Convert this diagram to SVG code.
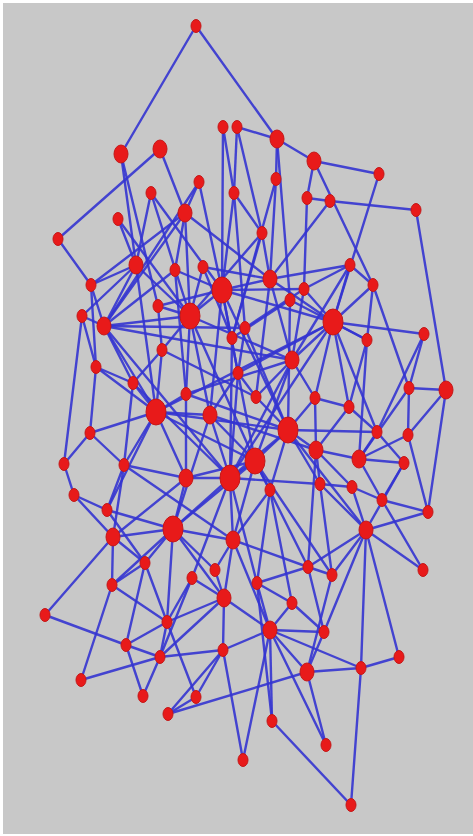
<svg xmlns="http://www.w3.org/2000/svg" width="473" height="836" viewBox="0 0 473 836">
<style>
#connectors line{stroke:#3434d0;stroke-width:2.4;stroke-linecap:round;stroke-opacity:.9}
.n ellipse{fill:#e81a1a;stroke:#c41818;stroke-width:1}
.s ellipse{rx:5px;ry:6.5px}
.m ellipse{rx:7px;ry:9px}
.l ellipse{rx:10px;ry:13px}
</style>
<rect x="0" y="0" width="473" height="836" fill="#ffffff"/>
<rect x="3" y="3" width="470" height="831" fill="#c8c8c8"/>
<g id="connectors">
<line x1="196" y1="26" x2="121" y2="154"/><line x1="196" y1="26" x2="277" y2="139"/><line x1="237" y1="127" x2="277" y2="139"/><line x1="277" y1="139" x2="314" y2="161"/><line x1="314" y1="161" x2="379" y2="174"/>
<line x1="223" y1="127" x2="234" y2="193"/><line x1="223" y1="127" x2="222" y2="290"/><line x1="237" y1="127" x2="234" y2="193"/><line x1="237" y1="127" x2="262" y2="233"/><line x1="277" y1="139" x2="290" y2="300"/>
<line x1="277" y1="139" x2="276" y2="179"/><line x1="121" y1="154" x2="136" y2="265"/><line x1="121" y1="154" x2="158" y2="306"/><line x1="160" y1="149" x2="58" y2="239"/><line x1="160" y1="149" x2="185" y2="213"/>
<line x1="379" y1="174" x2="333" y2="322"/><line x1="314" y1="161" x2="307" y2="198"/><line x1="314" y1="161" x2="373" y2="285"/><line x1="307" y1="198" x2="330" y2="201"/><line x1="330" y1="201" x2="416" y2="210"/>
<line x1="416" y1="210" x2="446" y2="390"/><line x1="276" y1="179" x2="270" y2="279"/><line x1="276" y1="179" x2="232" y2="338"/><line x1="199" y1="182" x2="222" y2="290"/><line x1="199" y1="182" x2="185" y2="213"/>
<line x1="199" y1="182" x2="104" y2="326"/><line x1="234" y1="193" x2="222" y2="290"/><line x1="234" y1="193" x2="262" y2="233"/><line x1="234" y1="193" x2="245" y2="328"/><line x1="151" y1="193" x2="136" y2="265"/>
<line x1="151" y1="193" x2="190" y2="316"/><line x1="151" y1="193" x2="222" y2="290"/><line x1="185" y1="213" x2="175" y2="270"/><line x1="185" y1="213" x2="190" y2="316"/><line x1="185" y1="213" x2="91" y2="285"/>
<line x1="185" y1="213" x2="104" y2="326"/><line x1="185" y1="213" x2="270" y2="279"/><line x1="118" y1="219" x2="136" y2="265"/><line x1="118" y1="219" x2="190" y2="316"/><line x1="58" y1="239" x2="91" y2="285"/>
<line x1="262" y1="233" x2="270" y2="279"/><line x1="262" y1="233" x2="190" y2="316"/><line x1="262" y1="233" x2="232" y2="338"/><line x1="136" y1="265" x2="190" y2="316"/><line x1="136" y1="265" x2="91" y2="285"/>
<line x1="136" y1="265" x2="82" y2="316"/><line x1="136" y1="265" x2="104" y2="326"/><line x1="136" y1="265" x2="156" y2="412"/><line x1="175" y1="270" x2="222" y2="290"/><line x1="175" y1="270" x2="186" y2="394"/>
<line x1="175" y1="270" x2="104" y2="326"/><line x1="203" y1="267" x2="270" y2="279"/><line x1="203" y1="267" x2="232" y2="338"/><line x1="203" y1="267" x2="190" y2="316"/><line x1="350" y1="265" x2="270" y2="279"/>
<line x1="350" y1="265" x2="333" y2="322"/><line x1="350" y1="265" x2="304" y2="289"/><line x1="350" y1="265" x2="292" y2="360"/><line x1="270" y1="279" x2="222" y2="290"/><line x1="270" y1="279" x2="333" y2="322"/>
<line x1="270" y1="279" x2="292" y2="360"/><line x1="270" y1="279" x2="256" y2="397"/><line x1="222" y1="290" x2="190" y2="316"/><line x1="222" y1="290" x2="333" y2="322"/><line x1="222" y1="290" x2="238" y2="373"/>
<line x1="222" y1="290" x2="210" y2="415"/><line x1="222" y1="290" x2="255" y2="461"/><line x1="222" y1="290" x2="158" y2="306"/><line x1="222" y1="290" x2="304" y2="289"/><line x1="222" y1="290" x2="288" y2="430"/>
<line x1="91" y1="285" x2="104" y2="326"/><line x1="91" y1="285" x2="96" y2="367"/><line x1="373" y1="285" x2="333" y2="322"/><line x1="373" y1="285" x2="367" y2="340"/><line x1="373" y1="285" x2="409" y2="388"/>
<line x1="304" y1="289" x2="333" y2="322"/><line x1="304" y1="289" x2="292" y2="360"/><line x1="304" y1="289" x2="245" y2="328"/><line x1="290" y1="300" x2="232" y2="338"/><line x1="290" y1="300" x2="288" y2="430"/>
<line x1="290" y1="300" x2="367" y2="340"/><line x1="190" y1="316" x2="158" y2="306"/><line x1="190" y1="316" x2="104" y2="326"/><line x1="190" y1="316" x2="210" y2="415"/><line x1="190" y1="316" x2="186" y2="394"/>
<line x1="190" y1="316" x2="255" y2="461"/><line x1="190" y1="316" x2="162" y2="350"/><line x1="190" y1="316" x2="292" y2="360"/><line x1="82" y1="316" x2="104" y2="326"/><line x1="82" y1="316" x2="64" y2="464"/>
<line x1="82" y1="316" x2="96" y2="367"/><line x1="104" y1="326" x2="245" y2="328"/><line x1="104" y1="326" x2="133" y2="383"/><line x1="104" y1="326" x2="156" y2="412"/><line x1="104" y1="326" x2="230" y2="478"/>
<line x1="158" y1="306" x2="162" y2="350"/><line x1="333" y1="322" x2="424" y2="334"/><line x1="333" y1="322" x2="292" y2="360"/><line x1="333" y1="322" x2="315" y2="398"/><line x1="333" y1="322" x2="349" y2="407"/>
<line x1="333" y1="322" x2="377" y2="432"/><line x1="333" y1="322" x2="367" y2="340"/><line x1="333" y1="322" x2="156" y2="412"/><line x1="333" y1="322" x2="230" y2="478"/><line x1="245" y1="328" x2="238" y2="373"/>
<line x1="245" y1="328" x2="288" y2="430"/><line x1="232" y1="338" x2="230" y2="478"/><line x1="367" y1="340" x2="349" y2="407"/><line x1="367" y1="340" x2="359" y2="459"/><line x1="424" y1="334" x2="377" y2="432"/>
<line x1="424" y1="334" x2="409" y2="388"/><line x1="162" y1="350" x2="156" y2="412"/><line x1="162" y1="350" x2="133" y2="383"/><line x1="292" y1="360" x2="256" y2="397"/><line x1="292" y1="360" x2="315" y2="398"/>
<line x1="292" y1="360" x2="255" y2="461"/><line x1="292" y1="360" x2="230" y2="478"/><line x1="292" y1="360" x2="186" y2="394"/><line x1="238" y1="373" x2="210" y2="415"/><line x1="238" y1="373" x2="256" y2="397"/>
<line x1="238" y1="373" x2="230" y2="478"/><line x1="96" y1="367" x2="133" y2="383"/><line x1="96" y1="367" x2="90" y2="433"/><line x1="96" y1="367" x2="156" y2="412"/><line x1="133" y1="383" x2="156" y2="412"/>
<line x1="133" y1="383" x2="124" y2="465"/><line x1="186" y1="394" x2="156" y2="412"/><line x1="186" y1="394" x2="186" y2="478"/><line x1="156" y1="412" x2="210" y2="415"/><line x1="156" y1="412" x2="90" y2="433"/>
<line x1="156" y1="412" x2="255" y2="461"/><line x1="156" y1="412" x2="186" y2="478"/><line x1="156" y1="412" x2="124" y2="465"/><line x1="156" y1="412" x2="107" y2="510"/><line x1="156" y1="412" x2="288" y2="430"/>
<line x1="210" y1="415" x2="255" y2="461"/><line x1="210" y1="415" x2="230" y2="478"/><line x1="210" y1="415" x2="173" y2="529"/><line x1="256" y1="397" x2="288" y2="430"/><line x1="315" y1="398" x2="349" y2="407"/>
<line x1="315" y1="398" x2="288" y2="430"/><line x1="315" y1="398" x2="316" y2="450"/><line x1="409" y1="388" x2="446" y2="390"/><line x1="409" y1="388" x2="359" y2="459"/><line x1="409" y1="388" x2="408" y2="435"/>
<line x1="446" y1="390" x2="408" y2="435"/><line x1="446" y1="390" x2="428" y2="512"/><line x1="349" y1="407" x2="316" y2="450"/><line x1="349" y1="407" x2="377" y2="432"/><line x1="288" y1="430" x2="255" y2="461"/>
<line x1="288" y1="430" x2="316" y2="450"/><line x1="288" y1="430" x2="377" y2="432"/><line x1="288" y1="430" x2="270" y2="490"/><line x1="288" y1="430" x2="320" y2="484"/><line x1="288" y1="430" x2="230" y2="478"/>
<line x1="288" y1="430" x2="366" y2="530"/><line x1="90" y1="433" x2="64" y2="464"/><line x1="90" y1="433" x2="124" y2="465"/><line x1="377" y1="432" x2="359" y2="459"/><line x1="377" y1="432" x2="404" y2="463"/>
<line x1="316" y1="450" x2="359" y2="459"/><line x1="316" y1="450" x2="320" y2="484"/><line x1="316" y1="450" x2="352" y2="487"/><line x1="316" y1="450" x2="308" y2="567"/><line x1="359" y1="459" x2="382" y2="500"/>
<line x1="359" y1="459" x2="404" y2="463"/><line x1="359" y1="459" x2="408" y2="435"/><line x1="255" y1="461" x2="230" y2="478"/><line x1="255" y1="461" x2="270" y2="490"/><line x1="255" y1="461" x2="233" y2="540"/>
<line x1="255" y1="461" x2="173" y2="529"/><line x1="255" y1="461" x2="308" y2="567"/><line x1="255" y1="461" x2="186" y2="478"/><line x1="255" y1="461" x2="332" y2="575"/><line x1="230" y1="478" x2="186" y2="478"/>
<line x1="230" y1="478" x2="173" y2="529"/><line x1="230" y1="478" x2="233" y2="540"/><line x1="230" y1="478" x2="257" y2="583"/><line x1="230" y1="478" x2="192" y2="578"/><line x1="230" y1="478" x2="320" y2="484"/>
<line x1="186" y1="478" x2="124" y2="465"/><line x1="186" y1="478" x2="173" y2="529"/><line x1="186" y1="478" x2="113" y2="537"/><line x1="64" y1="464" x2="74" y2="495"/><line x1="124" y1="465" x2="107" y2="510"/>
<line x1="124" y1="465" x2="113" y2="537"/><line x1="408" y1="435" x2="428" y2="512"/><line x1="404" y1="463" x2="382" y2="500"/><line x1="404" y1="463" x2="366" y2="530"/><line x1="74" y1="495" x2="107" y2="510"/>
<line x1="74" y1="495" x2="113" y2="537"/><line x1="107" y1="510" x2="173" y2="529"/><line x1="107" y1="510" x2="145" y2="563"/><line x1="320" y1="484" x2="366" y2="530"/><line x1="320" y1="484" x2="332" y2="575"/>
<line x1="320" y1="484" x2="352" y2="487"/><line x1="352" y1="487" x2="382" y2="500"/><line x1="352" y1="487" x2="366" y2="530"/><line x1="382" y1="500" x2="428" y2="512"/><line x1="428" y1="512" x2="366" y2="530"/>
<line x1="270" y1="490" x2="233" y2="540"/><line x1="270" y1="490" x2="257" y2="583"/><line x1="270" y1="490" x2="292" y2="603"/><line x1="173" y1="529" x2="113" y2="537"/><line x1="173" y1="529" x2="145" y2="563"/>
<line x1="173" y1="529" x2="215" y2="570"/><line x1="173" y1="529" x2="112" y2="585"/><line x1="173" y1="529" x2="167" y2="622"/><line x1="173" y1="529" x2="224" y2="598"/><line x1="173" y1="529" x2="233" y2="540"/>
<line x1="113" y1="537" x2="112" y2="585"/><line x1="113" y1="537" x2="45" y2="615"/><line x1="113" y1="537" x2="145" y2="563"/><line x1="233" y1="540" x2="224" y2="598"/><line x1="233" y1="540" x2="215" y2="570"/>
<line x1="233" y1="540" x2="308" y2="567"/><line x1="233" y1="540" x2="270" y2="630"/><line x1="145" y1="563" x2="112" y2="585"/><line x1="145" y1="563" x2="126" y2="645"/><line x1="145" y1="563" x2="167" y2="622"/>
<line x1="366" y1="530" x2="423" y2="570"/><line x1="366" y1="530" x2="308" y2="567"/><line x1="366" y1="530" x2="332" y2="575"/><line x1="366" y1="530" x2="361" y2="668"/><line x1="366" y1="530" x2="324" y2="632"/>
<line x1="366" y1="530" x2="399" y2="657"/><line x1="423" y1="570" x2="382" y2="500"/><line x1="192" y1="578" x2="167" y2="622"/><line x1="192" y1="578" x2="160" y2="657"/><line x1="192" y1="578" x2="224" y2="598"/>
<line x1="215" y1="570" x2="224" y2="598"/><line x1="257" y1="583" x2="292" y2="603"/><line x1="257" y1="583" x2="270" y2="630"/><line x1="257" y1="583" x2="308" y2="567"/><line x1="308" y1="567" x2="332" y2="575"/>
<line x1="308" y1="567" x2="324" y2="632"/><line x1="332" y1="575" x2="307" y2="672"/><line x1="224" y1="598" x2="223" y2="650"/><line x1="224" y1="598" x2="270" y2="630"/><line x1="224" y1="598" x2="160" y2="657"/>
<line x1="224" y1="598" x2="167" y2="622"/><line x1="112" y1="585" x2="81" y2="680"/><line x1="112" y1="585" x2="167" y2="622"/><line x1="45" y1="615" x2="126" y2="645"/><line x1="292" y1="603" x2="270" y2="630"/>
<line x1="292" y1="603" x2="324" y2="632"/><line x1="167" y1="622" x2="126" y2="645"/><line x1="167" y1="622" x2="160" y2="657"/><line x1="167" y1="622" x2="196" y2="697"/><line x1="270" y1="630" x2="324" y2="632"/>
<line x1="270" y1="630" x2="307" y2="672"/><line x1="270" y1="630" x2="361" y2="668"/><line x1="270" y1="630" x2="272" y2="721"/><line x1="270" y1="630" x2="223" y2="650"/><line x1="270" y1="630" x2="326" y2="745"/>
<line x1="324" y1="632" x2="307" y2="672"/><line x1="126" y1="645" x2="160" y2="657"/><line x1="126" y1="645" x2="143" y2="696"/><line x1="160" y1="657" x2="81" y2="680"/><line x1="160" y1="657" x2="223" y2="650"/>
<line x1="160" y1="657" x2="143" y2="696"/><line x1="223" y1="650" x2="168" y2="714"/><line x1="223" y1="650" x2="196" y2="697"/><line x1="223" y1="650" x2="243" y2="760"/><line x1="196" y1="697" x2="168" y2="714"/>
<line x1="307" y1="672" x2="361" y2="668"/><line x1="307" y1="672" x2="326" y2="745"/><line x1="361" y1="668" x2="399" y2="657"/><line x1="361" y1="668" x2="351" y2="805"/><line x1="168" y1="714" x2="307" y2="672"/>
<line x1="243" y1="760" x2="270" y2="630"/><line x1="272" y1="721" x2="351" y2="805"/><line x1="272" y1="721" x2="257" y2="583"/><line x1="330" y1="201" x2="270" y2="279"/><line x1="307" y1="198" x2="304" y2="289"/>
<line x1="350" y1="265" x2="373" y2="285"/><line x1="186" y1="394" x2="288" y2="430"/><line x1="210" y1="415" x2="316" y2="450"/><line x1="162" y1="350" x2="256" y2="397"/><line x1="133" y1="383" x2="230" y2="478"/>
<line x1="124" y1="465" x2="233" y2="540"/><line x1="104" y1="326" x2="292" y2="360"/><line x1="238" y1="373" x2="333" y2="322"/>
</g>
<g id="n1" class="n s"><ellipse cx="196" cy="26"/></g>
<g id="n2" class="n s"><ellipse cx="223" cy="127"/></g>
<g id="n3" class="n s"><ellipse cx="237" cy="127"/></g>
<g id="n4" class="n m"><ellipse cx="277" cy="139"/></g>
<g id="n5" class="n m"><ellipse cx="121" cy="154"/></g>
<g id="n6" class="n m"><ellipse cx="160" cy="149"/></g>
<g id="n7" class="n m"><ellipse cx="314" cy="161"/></g>
<g id="n8" class="n s"><ellipse cx="379" cy="174"/></g>
<g id="n9" class="n s"><ellipse cx="199" cy="182"/></g>
<g id="n10" class="n s"><ellipse cx="234" cy="193"/></g>
<g id="n11" class="n s"><ellipse cx="276" cy="179"/></g>
<g id="n12" class="n s"><ellipse cx="151" cy="193"/></g>
<g id="n13" class="n s"><ellipse cx="307" cy="198"/></g>
<g id="n14" class="n s"><ellipse cx="330" cy="201"/></g>
<g id="n15" class="n m"><ellipse cx="185" cy="213"/></g>
<g id="n16" class="n s"><ellipse cx="118" cy="219"/></g>
<g id="n17" class="n s"><ellipse cx="416" cy="210"/></g>
<g id="n18" class="n s"><ellipse cx="58" cy="239"/></g>
<g id="n19" class="n s"><ellipse cx="262" cy="233"/></g>
<g id="n20" class="n m"><ellipse cx="136" cy="265"/></g>
<g id="n21" class="n s"><ellipse cx="175" cy="270"/></g>
<g id="n22" class="n s"><ellipse cx="203" cy="267"/></g>
<g id="n23" class="n s"><ellipse cx="350" cy="265"/></g>
<g id="n24" class="n m"><ellipse cx="270" cy="279"/></g>
<g id="n25" class="n l"><ellipse cx="222" cy="290"/></g>
<g id="n26" class="n s"><ellipse cx="91" cy="285"/></g>
<g id="n27" class="n s"><ellipse cx="373" cy="285"/></g>
<g id="n28" class="n s"><ellipse cx="304" cy="289"/></g>
<g id="n29" class="n s"><ellipse cx="290" cy="300"/></g>
<g id="n30" class="n l"><ellipse cx="190" cy="316"/></g>
<g id="n31" class="n s"><ellipse cx="82" cy="316"/></g>
<g id="n32" class="n m"><ellipse cx="104" cy="326"/></g>
<g id="n33" class="n s"><ellipse cx="158" cy="306"/></g>
<g id="n34" class="n l"><ellipse cx="333" cy="322"/></g>
<g id="n35" class="n s"><ellipse cx="245" cy="328"/></g>
<g id="n36" class="n s"><ellipse cx="232" cy="338"/></g>
<g id="n37" class="n s"><ellipse cx="367" cy="340"/></g>
<g id="n38" class="n s"><ellipse cx="424" cy="334"/></g>
<g id="n39" class="n s"><ellipse cx="162" cy="350"/></g>
<g id="n40" class="n m"><ellipse cx="292" cy="360"/></g>
<g id="n41" class="n s"><ellipse cx="238" cy="373"/></g>
<g id="n42" class="n s"><ellipse cx="96" cy="367"/></g>
<g id="n43" class="n s"><ellipse cx="133" cy="383"/></g>
<g id="n44" class="n s"><ellipse cx="186" cy="394"/></g>
<g id="n45" class="n l"><ellipse cx="156" cy="412"/></g>
<g id="n46" class="n m"><ellipse cx="210" cy="415"/></g>
<g id="n47" class="n s"><ellipse cx="256" cy="397"/></g>
<g id="n48" class="n s"><ellipse cx="315" cy="398"/></g>
<g id="n49" class="n s"><ellipse cx="409" cy="388"/></g>
<g id="n50" class="n m"><ellipse cx="446" cy="390"/></g>
<g id="n51" class="n s"><ellipse cx="349" cy="407"/></g>
<g id="n52" class="n l"><ellipse cx="288" cy="430"/></g>
<g id="n53" class="n s"><ellipse cx="90" cy="433"/></g>
<g id="n54" class="n s"><ellipse cx="377" cy="432"/></g>
<g id="n55" class="n m"><ellipse cx="316" cy="450"/></g>
<g id="n56" class="n m"><ellipse cx="359" cy="459"/></g>
<g id="n57" class="n l"><ellipse cx="255" cy="461"/></g>
<g id="n58" class="n l"><ellipse cx="230" cy="478"/></g>
<g id="n59" class="n m"><ellipse cx="186" cy="478"/></g>
<g id="n60" class="n s"><ellipse cx="64" cy="464"/></g>
<g id="n61" class="n s"><ellipse cx="124" cy="465"/></g>
<g id="n62" class="n s"><ellipse cx="408" cy="435"/></g>
<g id="n63" class="n s"><ellipse cx="404" cy="463"/></g>
<g id="n65" class="n s"><ellipse cx="74" cy="495"/></g>
<g id="n66" class="n s"><ellipse cx="107" cy="510"/></g>
<g id="n67" class="n s"><ellipse cx="320" cy="484"/></g>
<g id="n68" class="n s"><ellipse cx="352" cy="487"/></g>
<g id="n69" class="n s"><ellipse cx="382" cy="500"/></g>
<g id="n70" class="n s"><ellipse cx="428" cy="512"/></g>
<g id="n71" class="n s"><ellipse cx="270" cy="490"/></g>
<g id="n72" class="n l"><ellipse cx="173" cy="529"/></g>
<g id="n73" class="n m"><ellipse cx="113" cy="537"/></g>
<g id="n74" class="n m"><ellipse cx="233" cy="540"/></g>
<g id="n75" class="n s"><ellipse cx="145" cy="563"/></g>
<g id="n76" class="n m"><ellipse cx="366" cy="530"/></g>
<g id="n77" class="n s"><ellipse cx="423" cy="570"/></g>
<g id="n78" class="n s"><ellipse cx="192" cy="578"/></g>
<g id="n79" class="n s"><ellipse cx="215" cy="570"/></g>
<g id="n80" class="n s"><ellipse cx="257" cy="583"/></g>
<g id="n81" class="n s"><ellipse cx="308" cy="567"/></g>
<g id="n82" class="n s"><ellipse cx="332" cy="575"/></g>
<g id="n83" class="n m"><ellipse cx="224" cy="598"/></g>
<g id="n84" class="n s"><ellipse cx="112" cy="585"/></g>
<g id="n85" class="n s"><ellipse cx="45" cy="615"/></g>
<g id="n86" class="n s"><ellipse cx="292" cy="603"/></g>
<g id="n87" class="n s"><ellipse cx="167" cy="622"/></g>
<g id="n88" class="n m"><ellipse cx="270" cy="630"/></g>
<g id="n89" class="n s"><ellipse cx="324" cy="632"/></g>
<g id="n90" class="n s"><ellipse cx="126" cy="645"/></g>
<g id="n91" class="n s"><ellipse cx="160" cy="657"/></g>
<g id="n92" class="n s"><ellipse cx="223" cy="650"/></g>
<g id="n93" class="n s"><ellipse cx="81" cy="680"/></g>
<g id="n94" class="n s"><ellipse cx="143" cy="696"/></g>
<g id="n95" class="n s"><ellipse cx="196" cy="697"/></g>
<g id="n96" class="n m"><ellipse cx="307" cy="672"/></g>
<g id="n97" class="n s"><ellipse cx="361" cy="668"/></g>
<g id="n98" class="n s"><ellipse cx="399" cy="657"/></g>
<g id="n99" class="n s"><ellipse cx="168" cy="714"/></g>
<g id="n100" class="n s"><ellipse cx="243" cy="760"/></g>
<g id="n101" class="n s"><ellipse cx="272" cy="721"/></g>
<g id="n102" class="n s"><ellipse cx="326" cy="745"/></g>
<g id="n103" class="n s"><ellipse cx="351" cy="805"/></g>
</svg>
